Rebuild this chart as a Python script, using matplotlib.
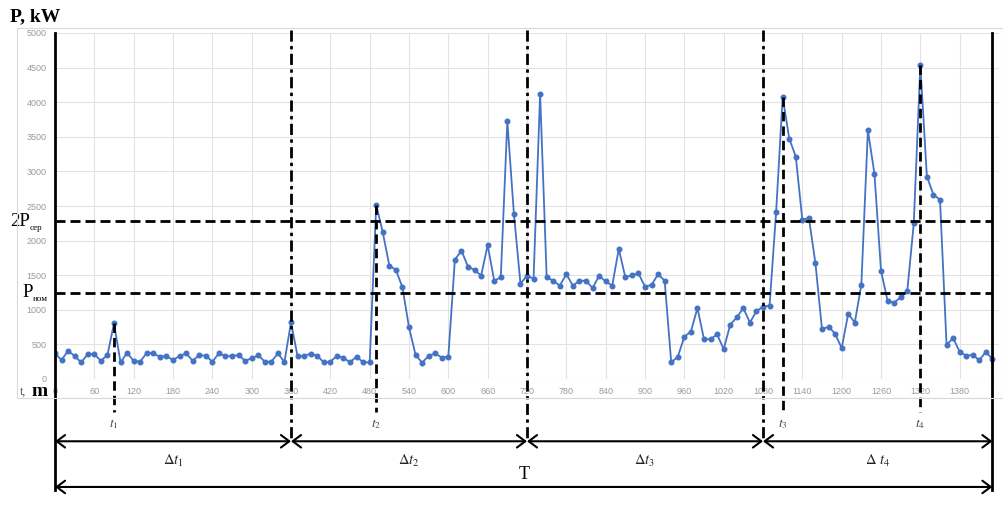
import matplotlib
matplotlib.use('Agg')
import matplotlib.pyplot as plt
from matplotlib.patches import Rectangle

plt.rcParams['mathtext.fontset'] = 'stix'

# load profile, one reading every 10 minutes
minutes = list(range(0, 1440, 10))
power = [370, 274, 409, 332, 240, 361, 356, 264, 346, 803,       # 0-90
         240, 380, 260, 250, 380, 370, 322, 332, 274, 332,       # 100-190
         370, 264, 346, 337, 250, 370, 332, 332, 346, 264,       # 200-290
         298, 346, 250, 250, 370, 245, 820, 330, 330, 367,       # 300-390
         335, 240, 250, 333, 310, 240, 325, 240, 240, 2520,      # 400-490
         2120, 1640, 1575, 1325, 745, 350, 235, 335, 370, 310,   # 500-590
         325, 1725, 1855, 1625, 1575, 1495, 1935, 1420, 1470, 3725,  # 600-690
         2390, 1380, 1490, 1450, 4120, 1470, 1420, 1350, 1515, 1350,  # 700-790
         1420, 1420, 1315, 1490, 1410, 1350, 1880, 1470, 1500, 1525,  # 800-890
         1335, 1360, 1515, 1420, 240, 320, 610, 685, 1025, 575,  # 900-990
         575, 645, 430, 785, 890, 1025, 816, 980, 1045, 1060,    # 1000-1090
         2410, 4075, 3475, 3215, 2300, 2330, 1670, 720, 755, 655,  # 1100-1190
         445, 945, 815, 1360, 3595, 2965, 1565, 1130, 1105, 1180,  # 1200-1290
         1265, 2250, 4535, 2925, 2665, 2590, 495, 590, 395, 335,  # 1300-1390
         350, 270, 395, 285]                                      # 1400-1430
assert len(power) == len(minutes)

p_mean = 1250
p_double = 2280
t_marks = [90, 490, 1110, 1320]
t_names = [r'$t_1$', r'$t_2$', r'$t_3$', r'$t_4$']
bounds = [0, 360, 720, 1080, 1430]
dt_names = [r'$\Delta t_1$', r'$\Delta t_2$', r'$\Delta t_3$', r'$\Delta\ t_4$']
x_ticks = list(range(0, 1381, 60))
y_ticks = list(range(0, 5001, 500))

# levels below the time axis (in kW units, drawn unclipped)
y_top = 5050
y_arrow = -900
y_total = -1560
y_tline_end = -480
y_tlabel = -650
y_dtlabel = -1185
y_total_label = -1385

W, H = 1004, 526
fig = plt.figure(figsize=(W / 100, H / 100), dpi=100)
ax = fig.add_axes([55 / W, (H - 379) / H, 944 / W, 346 / H])

# excel chart frame
fig.add_artist(Rectangle((17 / W, (H - 398) / H), 986 / W, 370 / H,
                         transform=fig.transFigure, fill=False,
                         edgecolor='#d9d9d9', lw=0.8))

ax.plot(minutes, power, color='#4472C4', lw=1.3, marker='o', ms=3.3, zorder=3)

ax.set_xlim(0, 1440)
ax.set_ylim(0, 5000)
ax.set_xticks(x_ticks)
ax.set_yticks(y_ticks)
ax.grid(color='#e3e3e3', lw=0.8)
ax.tick_params(length=0, labelsize=6.5, labelcolor='#9a9a9a')
ax.tick_params(axis='y', pad=6)
ax.tick_params(axis='x', pad=6)
for lab in ax.get_xticklabels() + ax.get_yticklabels():
    lab.set_family('Liberation Sans')
for s in ax.spines.values():
    s.set_visible(False)

# horizontal reference levels
for lvl in [p_mean, p_double]:
    ax.plot([0, bounds[-1]], [lvl, lvl], color='k', lw=2, dashes=(3.6, 1.8),
            clip_on=False, zorder=4)

# outer solid lines
for xb in [bounds[0], bounds[-1]]:
    ax.plot([xb, xb], [5000, y_total - 50], color='k', lw=2, clip_on=False, zorder=4)

# interval boundaries
for xb in bounds[1:-1]:
    ax.plot([xb, xb], [y_top, y_arrow], color='k', lw=2,
            dashes=(4, 1.6, 1.2, 1.6), clip_on=False, zorder=4)

# peak moments
for tm, name in zip(t_marks, t_names):
    ax.plot([tm, tm], [power[minutes.index(tm)], y_tline_end], color='k', lw=2,
            dashes=(3.4, 1.8), clip_on=False, zorder=4)
    ax.text(tm, y_tlabel, name, ha='center', va='center', fontsize=9.5, color='#444444')

arrow = dict(arrowstyle='<->,head_length=0.6,head_width=0.45', lw=1.5, color='k',
             shrinkA=0, shrinkB=0)
for a, b, name in zip(bounds[:-1], bounds[1:], dt_names):
    ax.annotate('', xy=(b, y_arrow), xytext=(a, y_arrow), arrowprops=arrow,
                annotation_clip=False)
    ax.text((a + b) / 2, y_dtlabel, name, ha='center', va='center', fontsize=10.5,
            color='#222222')
ax.annotate('', xy=(bounds[-1], y_total), xytext=(bounds[0], y_total), arrowprops=arrow,
            annotation_clip=False)
ax.text((bounds[0] + bounds[-1]) / 2, y_total_label, 'T', ha='center', va='center',
        fontsize=13, family='Liberation Serif')

# axis captions
ax.text(-69, 5230, 'P, kW', ha='left', va='center', fontsize=14, fontweight='bold',
        family='Liberation Serif')
ax.text(-53, -185, 't,', ha='left', va='center', fontsize=8.5, color='#555555',
        family='Liberation Serif')
ax.text(-24, -185, 'm', ha='center', va='center', fontsize=14, fontweight='bold',
        family='Liberation Serif')

t2p = ax.text(-69, p_double, '2P', ha='left', va='center', fontsize=13.5,
              family='Liberation Serif')
ax.annotate('сер', xy=(1, 0.12), xycoords=t2p, fontsize=6.5, va='center', ha='left',
            family='Liberation Serif')
tp = ax.text(-50, p_mean, 'P', ha='left', va='center', fontsize=13.5,
             family='Liberation Serif')
ax.annotate('ном', xy=(1, 0.12), xycoords=tp, fontsize=6.5, va='center', ha='left',
            family='Liberation Serif')

plt.savefig('out.png', dpi=100)
